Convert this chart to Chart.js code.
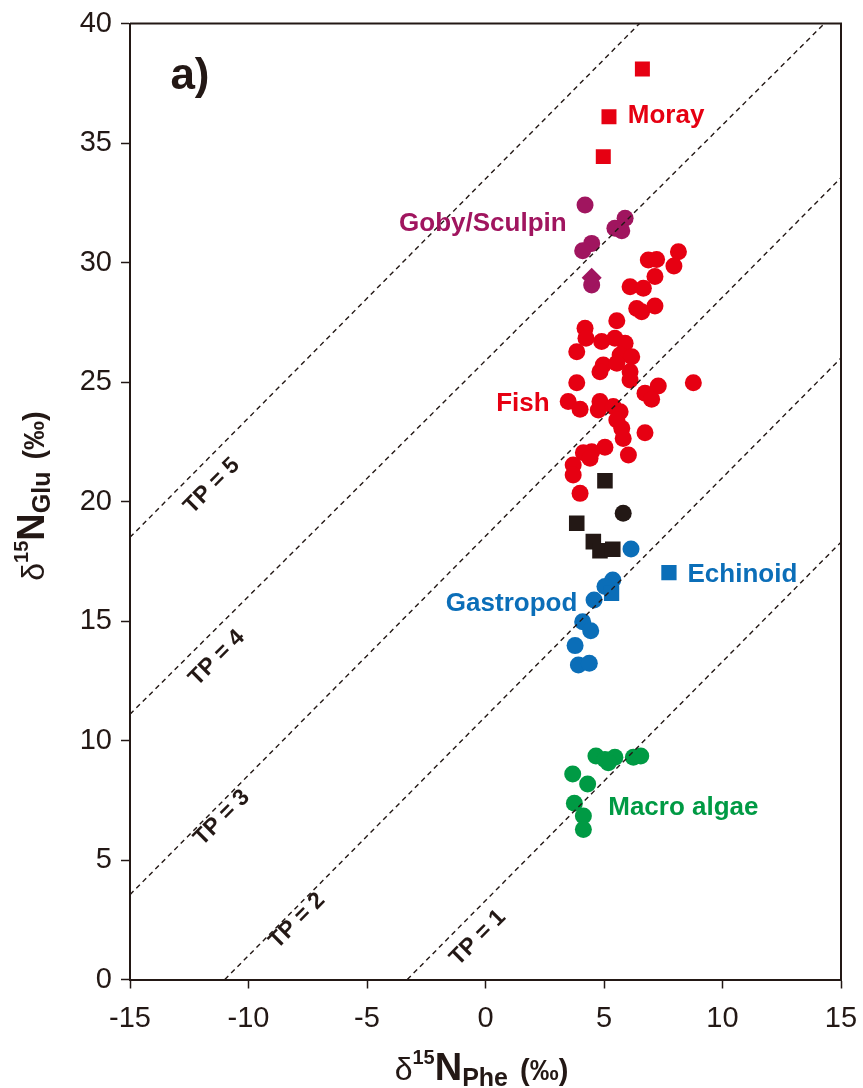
<!DOCTYPE html>
<html>
<head>
<meta charset="utf-8">
<script src="https://cdn.jsdelivr.net/npm/chart.js@4.4.1/dist/chart.umd.min.js"></script>
<style>
  html, body { margin: 0; padding: 0; background: #ffffff; }
  #wrap { width: 863px; height: 1088px; position: relative; }
</style>
</head>
<body>
<div id="wrap"><canvas id="c" width="863" height="1088"></canvas></div>
<script>
// ---- axis ranges and ticks ----
const xRange = [-15, 15];
const yRange = [0, 40];
const xTickStep = 5;
const yTickStep = 5;

// ---- δ15N-Phe (x) and δ15N-Glu (y) per group ----
const fishPhe = [8.14, 6.87, 7.22, 7.95, 7.15, 6.10, 6.66, 6.38, 7.15, 6.59, 5.54, 4.20, 4.24, 4.90, 5.46, 5.89, 3.85, 5.68, 6.17, 4.97, 4.83, 5.54, 6.10, 8.77, 3.85, 7.29, 6.73, 7.01, 6.10, 3.49, 3.99, 4.83, 4.76, 5.39, 5.68, 5.54, 5.75, 5.81, 6.73, 5.04, 4.48, 4.13, 4.41, 6.03, 3.70, 3.70, 3.99];
const fishGlu = [30.45, 30.10, 30.13, 29.85, 29.41, 28.99, 28.92, 28.08, 28.18, 27.94, 27.56, 27.25, 26.83, 26.69, 26.83, 26.62, 26.27, 26.13, 26.06, 25.71, 25.43, 25.78, 25.43, 24.97, 24.97, 24.83, 24.53, 24.28, 25.08, 24.18, 23.86, 24.18, 23.83, 23.97, 23.76, 23.41, 23.06, 22.64, 22.88, 22.27, 22.08, 22.04, 21.81, 21.95, 21.53, 21.11, 20.34];

const morayPhe = [6.62, 5.21, 4.97];
const morayGlu = [38.10, 36.10, 34.43];

const gobyPhe = [4.20, 5.89, 5.46, 5.75, 4.48, 4.10, 4.48];
const gobyGlu = [32.41, 31.85, 31.43, 31.33, 30.80, 30.49, 29.06];
const gobyDiamondPhe = [4.48];
const gobyDiamondGlu = [29.36];

const blackSqPhe = [5.04, 3.85, 4.55, 4.83, 5.37];
const blackSqGlu = [20.87, 19.09, 18.32, 17.94, 18.00];
const blackCirPhe = [5.81];
const blackCirGlu = [19.51];

const gastroPhe = [6.14, 5.37, 5.04, 4.58, 4.10, 4.44, 3.78, 3.92, 4.38];
const gastroGlu = [18.01, 16.72, 16.44, 15.88, 14.97, 14.59, 13.97, 13.16, 13.23];
const blueSqPhe = [5.32, 7.74];
const blueSqGlu = [16.16, 17.02];

const algaePhe = [4.66, 5.04, 5.46, 5.18, 6.24, 6.55, 3.68, 4.31, 3.75, 4.13, 4.13];
const algaeGlu = [9.35, 9.21, 9.30, 9.07, 9.30, 9.35, 8.60, 8.18, 7.37, 6.84, 6.28];

// ---- trophic position isolines (end points) ----
const tpNames = ['TP = 1', 'TP = 2', 'TP = 3', 'TP = 4', 'TP = 5'];
const tpStartX = [-3.3, -11.0, -15, -15, -15];
const tpStartY = [0, 0, 3.55, 11.1, 18.5];
const tpEndX = [15, 15, 15, 14.3, 6.5];
const tpEndY = [18.3, 26.0, 33.55, 40, 40];
const tpLabelX = [-0.32, -7.95, -11.12, -11.33, -11.54];
const tpLabelY = [1.74, 2.45, 6.76, 13.45, 20.65];

// ---- group labels ----
const groupText = ['Moray', 'Goby/Sculpin', 'Fish', 'Echinoid', 'Gastropod', 'Macro algae'];
const groupX = [7.62, -0.11, 1.58, 10.84, 1.10, 8.35];
const groupY = [36.13, 31.61, 24.08, 16.93, 15.71, 7.18];

const RED = '#E60012', PURPLE = '#A0155F', INK = '#231815', BLUE = '#0B6EB8', GREEN = '#009A44';
const groupColor = [RED, PURPLE, RED, BLUE, BLUE, GREEN];

const FONT = '"Liberation Sans", Arial, Helvetica, sans-serif';

function pts(xs, ys) { return xs.map((x, i) => ({ x: x, y: ys[i] })); }

const lineSets = tpNames.map((n, i) => ({
  type: 'line',
  label: n,
  data: [{ x: tpStartX[i], y: tpStartY[i] }, { x: tpEndX[i], y: tpEndY[i] }],
  borderColor: INK,
  borderWidth: 1.4,
  borderDash: [5, 4],
  pointRadius: 0,
  fill: false,
  showLine: true,
  tension: 0
}));

function markerSet(label, xs, ys, color, style, r) {
  return {
    label: label,
    data: pts(xs, ys),
    backgroundColor: color,
    borderColor: color,
    borderWidth: 0,
    pointStyle: style,
    pointRadius: r,
    pointHoverRadius: r
  };
}

const markerSets = [
  markerSet('Moray', morayPhe, morayGlu, RED, 'rect', 10.6),
  markerSet('Goby/Sculpin diamond', gobyDiamondPhe, gobyDiamondGlu, PURPLE, 'rectRot', 10),
  markerSet('Goby/Sculpin', gobyPhe, gobyGlu, PURPLE, 'circle', 8.5),
  markerSet('Echinoid/Gastropod squares', blueSqPhe, blueSqGlu, BLUE, 'rect', 10.8),
  markerSet('Gastropod', gastroPhe, gastroGlu, BLUE, 'circle', 8.5),
  markerSet('Black squares', blackSqPhe, blackSqGlu, INK, 'rect', 11),
  markerSet('Black circle', blackCirPhe, blackCirGlu, INK, 'circle', 8.5),
  markerSet('Macro algae', algaePhe, algaeGlu, GREEN, 'circle', 8.5),
  markerSet('Fish', fishPhe, fishGlu, RED, 'circle', 8.5)
];

// draws a run of text pieces with their own fonts and baseline shifts, centred on cx
function drawRich(ctx, parts, cx, baseY) {
  let total = 0;
  parts.forEach(p => { ctx.font = p.font; p.w = ctx.measureText(p.text).width; total += p.w + (p.gap || 0); });
  let x = cx - total / 2;
  ctx.textBaseline = 'alphabetic';
  ctx.textAlign = 'left';
  parts.forEach(p => {
    x += (p.gap || 0);
    ctx.font = p.font;
    ctx.fillText(p.text, x, baseY + (p.dy || 0));
    x += p.w;
  });
}

function titleParts(sub) {
  return [
    { text: '\u03B4', font: '32px ' + FONT },
    { text: '15', font: 'bold 20px ' + FONT, dy: -16 },
    { text: 'N', font: 'bold 38px ' + FONT },
    { text: sub, font: 'bold 25px ' + FONT, dy: 6 },
    { text: '(\u2030)', font: 'bold 29px ' + FONT, gap: 12 }
  ];
}

const decorPlugin = {
  id: 'decor',
  afterDraw(chart) {
    const ctx = chart.ctx;
    const a = chart.chartArea;
    const xs = chart.scales.x, ys = chart.scales.y;
    ctx.save();
    // top and right frame edges
    ctx.strokeStyle = INK;
    ctx.lineWidth = 2;
    ctx.beginPath();
    ctx.moveTo(a.left, a.top);
    ctx.lineTo(a.right, a.top);
    ctx.lineTo(a.right, a.bottom);
    ctx.stroke();

    // TP labels along the isolines
    ctx.fillStyle = INK;
    ctx.font = 'bold 23px ' + FONT;
    ctx.textAlign = 'center';
    ctx.textBaseline = 'middle';
    tpNames.forEach((n, i) => {
      ctx.save();
      ctx.translate(xs.getPixelForValue(tpLabelX[i]), ys.getPixelForValue(tpLabelY[i]));
      ctx.rotate(-Math.PI / 4);
      ctx.fillText(n, 0, 0);
      ctx.restore();
    });

    // group names
    ctx.font = 'bold 26px ' + FONT;
    groupText.forEach((t, i) => {
      ctx.fillStyle = groupColor[i];
      ctx.fillText(t, xs.getPixelForValue(groupX[i]), ys.getPixelForValue(groupY[i]));
    });

    // panel letter
    ctx.fillStyle = INK;
    ctx.font = 'bold 44px ' + FONT;
    ctx.fillText('a)', xs.getPixelForValue(-12.47), ys.getPixelForValue(37.76));

    // x axis title
    ctx.fillStyle = INK;
    drawRich(ctx, titleParts('Phe'), (a.left + a.right) / 2 - 4, 1080);

    // y axis title
    ctx.save();
    ctx.translate(44, 496);
    ctx.rotate(-Math.PI / 2);
    drawRich(ctx, titleParts('Glu'), 0, 0);
    ctx.restore();
    ctx.restore();
  }
};

new Chart(document.getElementById('c'), {
  type: 'scatter',
  data: { datasets: lineSets.concat(markerSets) },
  options: {
    responsive: false,
    animation: false,
    devicePixelRatio: 1,
    layout: { padding: { left: 0, right: 22, top: 23.5, bottom: 0 } },
    plugins: { legend: { display: false }, tooltip: { enabled: false } },
    scales: {
      x: {
        type: 'linear',
        min: xRange[0], max: xRange[1],
        afterFit(scale) { scale.height = 108.5; scale.paddingLeft = 0; scale.paddingRight = 0; },
        ticks: { stepSize: xTickStep, color: INK, font: { family: FONT, size: 29 }, padding: 13 },
        grid: { display: true, drawOnChartArea: false, drawTicks: true, tickLength: 9, tickWidth: 1.5, tickColor: INK },
        border: { display: true, color: INK, width: 2 }
      },
      y: {
        type: 'linear',
        min: yRange[0], max: yRange[1],
        afterFit(scale) { scale.width = 130; scale.paddingTop = 0; scale.paddingBottom = 0; },
        ticks: { stepSize: yTickStep, color: INK, font: { family: FONT, size: 29 }, padding: 9 },
        grid: { display: true, drawOnChartArea: false, drawTicks: true, tickLength: 9, tickWidth: 1.5, tickColor: INK },
        border: { display: true, color: INK, width: 2 }
      }
    }
  },
  plugins: [decorPlugin]
});
</script>
</body>
</html>
